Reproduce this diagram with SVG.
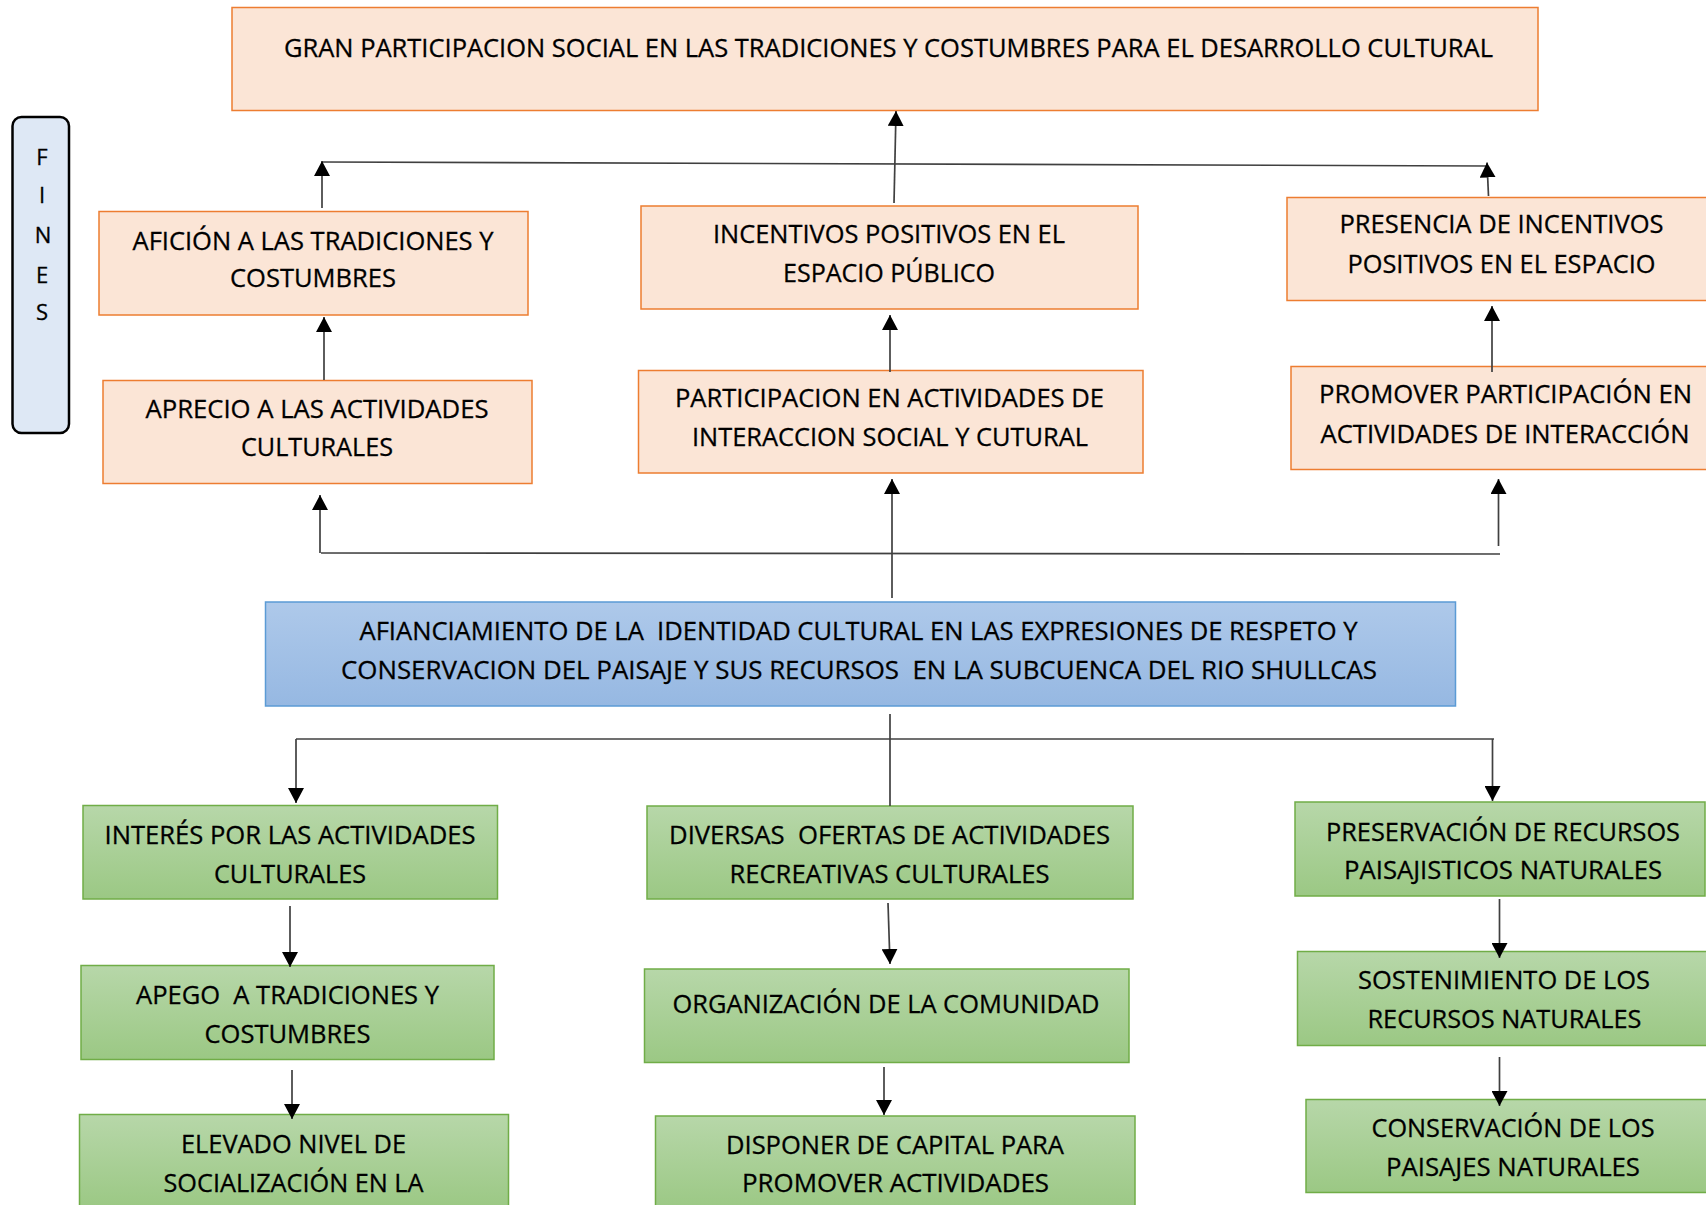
<svg xmlns="http://www.w3.org/2000/svg" width="1706" height="1205" viewBox="0 0 1706 1205">
<defs>
<linearGradient id="gg" x1="0" y1="0" x2="0" y2="1"><stop offset="0" stop-color="#b7d7a9"/><stop offset="1" stop-color="#9bc884"/></linearGradient>
<linearGradient id="bg" x1="0" y1="0" x2="0" y2="1"><stop offset="0" stop-color="#aec9ea"/><stop offset="1" stop-color="#96b8e2"/></linearGradient>
<marker id="ah" viewBox="0 0 15 16" refX="15" refY="8" markerWidth="15" markerHeight="16" markerUnits="userSpaceOnUse" orient="auto"><path d="M0,0 L15,8 L0,16 z" fill="#000"/></marker>
</defs>
<style>
.o{fill:#fbe5d6;stroke:#ed7d31;stroke-width:1.5}
.g{fill:url(#gg);stroke:#70ad47;stroke-width:1.5}
.b{fill:url(#bg);stroke:#5b9bd5;stroke-width:1.5}
.f{fill:#dee8f5;stroke:#000;stroke-width:2.5}
text{font-family:"Open Sans","Noto Sans","Liberation Sans",sans-serif;font-size:26px;fill:#000;stroke:#000;stroke-width:0.3;text-anchor:middle;white-space:pre}
.fl{font-size:22px}
.c{stroke:#404040;stroke-width:1.7;fill:none}
.a{marker-end:url(#ah)}
</style>
<rect width="1706" height="1205" fill="#fff"/>

<g id="fines">
<rect class="f" x="12.5" y="117" width="56.5" height="316" rx="9"/>
<text class="fl" x="42" y="165">F</text>
<text class="fl" x="42" y="203">I</text>
<text class="fl" x="43" y="243">N</text>
<text class="fl" x="42" y="283">E</text>
<text class="fl" x="42" y="320">S</text>
</g>

<g id="n-gran">
<rect class="o" x="232" y="7.5" width="1306" height="103"/>
<text x="888.5" y="57" textLength="1209" lengthAdjust="spacingAndGlyphs">GRAN PARTICIPACION SOCIAL EN LAS TRADICIONES Y COSTUMBRES PARA EL DESARROLLO CULTURAL</text>
</g>

<g id="n-aficion">
<rect class="o" x="99" y="211.5" width="429" height="103.5"/>
<text x="313" y="250" textLength="361" lengthAdjust="spacingAndGlyphs">AFICIÓN A LAS TRADICIONES Y</text>
<text x="313" y="287" textLength="166" lengthAdjust="spacingAndGlyphs">COSTUMBRES</text>
</g>

<g id="n-aprecio">
<rect class="o" x="103" y="380.5" width="429" height="103"/>
<text x="317" y="418" textLength="343" lengthAdjust="spacingAndGlyphs">APRECIO A LAS ACTIVIDADES</text>
<text x="317" y="456" textLength="152" lengthAdjust="spacingAndGlyphs">CULTURALES</text>
</g>

<g id="n-incentivos">
<rect class="o" x="641" y="206" width="497" height="103"/>
<text x="889" y="243" textLength="352" lengthAdjust="spacingAndGlyphs">INCENTIVOS POSITIVOS EN EL</text>
<text x="889" y="282" textLength="212" lengthAdjust="spacingAndGlyphs">ESPACIO PÚBLICO</text>
</g>

<g id="n-participacion">
<rect class="o" x="638.5" y="370.5" width="504.5" height="102.5"/>
<text x="889.5" y="407" textLength="429" lengthAdjust="spacingAndGlyphs">PARTICIPACION EN ACTIVIDADES DE</text>
<text x="890" y="446" textLength="396" lengthAdjust="spacingAndGlyphs">INTERACCION SOCIAL Y CUTURAL</text>
</g>

<g id="n-presencia">
<rect class="o" x="1287" y="197.5" width="433" height="103"/>
<text x="1501.5" y="233" textLength="324" lengthAdjust="spacingAndGlyphs">PRESENCIA DE INCENTIVOS</text>
<text x="1501.5" y="273" textLength="308" lengthAdjust="spacingAndGlyphs">POSITIVOS EN EL ESPACIO</text>
</g>

<g id="n-promover">
<rect class="o" x="1291" y="366.5" width="433" height="103"/>
<text x="1505.5" y="403" textLength="373" lengthAdjust="spacingAndGlyphs">PROMOVER PARTICIPACIÓN EN</text>
<text x="1505" y="443" textLength="369" lengthAdjust="spacingAndGlyphs">ACTIVIDADES DE INTERACCIÓN</text>
</g>

<g id="n-afianciamiento">
<rect class="b" x="265.5" y="602" width="1190" height="104"/>
<text x="858.5" y="640" textLength="998" lengthAdjust="spacingAndGlyphs">AFIANCIAMIENTO DE LA  IDENTIDAD CULTURAL EN LAS EXPRESIONES DE RESPETO Y</text>
<text x="859" y="679" textLength="1036" lengthAdjust="spacingAndGlyphs">CONSERVACION DEL PAISAJE Y SUS RECURSOS  EN LA SUBCUENCA DEL RIO SHULLCAS</text>
</g>

<g id="n-interes">
<rect class="g" x="83" y="805.5" width="414.5" height="93.5"/>
<text x="290" y="844" textLength="371" lengthAdjust="spacingAndGlyphs">INTERÉS POR LAS ACTIVIDADES</text>
<text x="290" y="883" textLength="152" lengthAdjust="spacingAndGlyphs">CULTURALES</text>
</g>

<g id="n-apego">
<rect class="g" x="81" y="965.5" width="413" height="94"/>
<text x="287.5" y="1004" textLength="303" lengthAdjust="spacingAndGlyphs">APEGO  A TRADICIONES Y</text>
<text x="287.5" y="1043" textLength="166" lengthAdjust="spacingAndGlyphs">COSTUMBRES</text>
</g>

<g id="n-elevado">
<rect class="g" x="79.5" y="1114.5" width="429" height="94"/>
<text x="293.5" y="1153" textLength="225" lengthAdjust="spacingAndGlyphs">ELEVADO NIVEL DE</text>
<text x="293.5" y="1192" textLength="260" lengthAdjust="spacingAndGlyphs">SOCIALIZACIÓN EN LA</text>
</g>

<g id="n-diversas">
<rect class="g" x="647" y="806" width="486" height="93"/>
<text x="889.5" y="844" textLength="441" lengthAdjust="spacingAndGlyphs">DIVERSAS  OFERTAS DE ACTIVIDADES</text>
<text x="889.5" y="883" textLength="320" lengthAdjust="spacingAndGlyphs">RECREATIVAS CULTURALES</text>
</g>

<g id="n-organizacion">
<rect class="g" x="644.5" y="969" width="484.5" height="93.5"/>
<text x="886" y="1013" textLength="427" lengthAdjust="spacingAndGlyphs">ORGANIZACIÓN DE LA COMUNIDAD</text>
</g>

<g id="n-disponer">
<rect class="g" x="655.5" y="1116" width="479.5" height="94"/>
<text x="895" y="1154" textLength="338" lengthAdjust="spacingAndGlyphs">DISPONER DE CAPITAL PARA</text>
<text x="895.5" y="1192" textLength="307" lengthAdjust="spacingAndGlyphs">PROMOVER ACTIVIDADES</text>
</g>

<g id="n-preservacion">
<rect class="g" x="1295" y="802" width="410" height="94"/>
<text x="1503" y="841" textLength="354" lengthAdjust="spacingAndGlyphs">PRESERVACIÓN DE RECURSOS</text>
<text x="1503" y="879" textLength="318" lengthAdjust="spacingAndGlyphs">PAISAJISTICOS NATURALES</text>
</g>

<g id="n-sostenimiento">
<rect class="g" x="1297.5" y="951.5" width="415" height="94"/>
<text x="1504" y="989" textLength="292" lengthAdjust="spacingAndGlyphs">SOSTENIMIENTO DE LOS</text>
<text x="1504.5" y="1028" textLength="274" lengthAdjust="spacingAndGlyphs">RECURSOS NATURALES</text>
</g>

<g id="n-conservacion">
<rect class="g" x="1306" y="1099.5" width="416" height="93"/>
<text x="1513" y="1137" textLength="283" lengthAdjust="spacingAndGlyphs">CONSERVACIÓN DE LOS</text>
<text x="1513" y="1176" textLength="254" lengthAdjust="spacingAndGlyphs">PAISAJES NATURALES</text>
</g>

<g id="connectors">
<path class="c" d="M322,162 L1487,166"/>
<path class="c a" d="M322,208 L322,161"/>
<path class="c a" d="M894,203 L896,111"/>
<path class="c a" d="M1488.5,196 L1487,162.5"/>
<path class="c a" d="M324,380 L324,317"/>
<path class="c a" d="M890,372 L890,315"/>
<path class="c a" d="M1492,372 L1492,306"/>
<path class="c" d="M321,553 L1500,554"/>
<path class="c a" d="M320,553 L320,495"/>
<path class="c a" d="M892,598 L892,479"/>
<path class="c a" d="M1498.5,546 L1498.5,479"/>
<path class="c" d="M890,714 L890,806"/>
<path class="c" d="M296,739 L1494,739"/>
<path class="c a" d="M296,739 L296,803"/>
<path class="c a" d="M1492.5,739 L1492.5,801"/>
<path class="c a" d="M290,906 L290,967"/>
<path class="c a" d="M292,1070 L292,1119"/>
<path class="c a" d="M888,903 L890,964"/>
<path class="c a" d="M884,1067 L884,1115"/>
<path class="c a" d="M1499.5,899 L1499.5,958"/>
<path class="c a" d="M1499.5,1057 L1499.5,1106"/>
</g>
</svg>
